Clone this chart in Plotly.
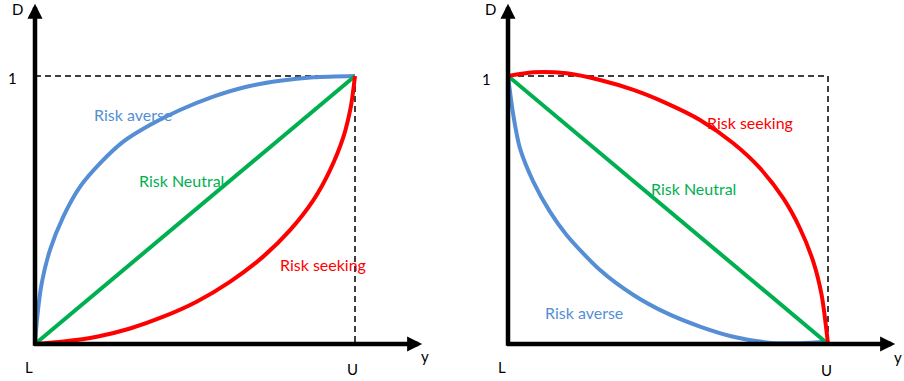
import plotly.graph_objects as go

# ---- data (normalized: L..U on x, 0..1 on D) ----
neutral_left_x = [0, 1]
neutral_left_y = [0, 1]
averse_left_x = [0, 0.007, 0.0209, 0.0469, 0.0885, 0.141, 0.203, 0.276, 0.359, 0.453,
                 0.557, 0.661, 0.766, 0.870, 1.0]
averse_left_y = [0, 0.101, 0.226, 0.351, 0.475, 0.587, 0.674, 0.755, 0.817, 0.873,
                 0.923, 0.960, 0.982, 0.995, 1.0]
seeking_left_x = [0, 0.0885, 0.193, 0.297, 0.401, 0.505, 0.609, 0.713, 0.797, 0.870,
                  0.922, 0.964, 0.987, 1.0]
seeking_left_y = [0, 0.009, 0.027, 0.058, 0.102, 0.158, 0.232, 0.326, 0.425, 0.537,
                  0.649, 0.774, 0.886, 1.0]

neutral_right_x = [0, 1]
neutral_right_y = [1, 0]
seeking_right_x = [0, 0.079, 0.183, 0.2875, 0.392, 0.496, 0.6, 0.704, 0.7875, 0.860,
                   0.9125, 0.954, 0.980, 1.0]
seeking_right_y = [1, 1.014, 1.010, 0.985, 0.948, 0.898, 0.836, 0.749, 0.656, 0.544,
                   0.431, 0.307, 0.183, 0]
averse_right_x = [0, 0.0166, 0.0375, 0.079, 0.131, 0.183, 0.2875, 0.392, 0.496, 0.6,
                  0.704, 0.808, 0.9125, 1.0]
averse_right_y = [1, 0.854, 0.730, 0.606, 0.494, 0.407, 0.276, 0.183, 0.115, 0.065,
                  0.027, 0.006, 0.003, 0.009]

BLUE = "#558ED5"
GREEN = "#00B050"
RED = "#FF0000"
FONT = "Lato"

W, H = 904, 381
PXX, PXY = 320.0, 268.0  # pixels per unit
def xr(origin_px, dom_lo_px, dom_hi_px):
    return [-(origin_px - dom_lo_px) / PXX, (dom_hi_px - origin_px) / PXX]
yrange = [-(H - 344) / PXY, 344 / PXY]

fig = go.Figure()

def curve(x, y, color, xa, ya, shape="spline"):
    fig.add_trace(go.Scatter(x=x, y=y, mode="lines", xaxis=xa, yaxis=ya,
                             line=dict(color=color, width=4, shape=shape, smoothing=0.8),
                             hoverinfo="skip", showlegend=False))

curve(averse_left_x, averse_left_y, BLUE, "x", "y")
curve(neutral_left_x, neutral_left_y, GREEN, "x", "y", "linear")
curve(seeking_left_x, seeking_left_y, RED, "x", "y")
curve(averse_right_x, averse_right_y, BLUE, "x2", "y2")
curve(neutral_right_x, neutral_right_y, GREEN, "x2", "y2", "linear")
curve(seeking_right_x, seeking_right_y, RED, "x2", "y2")

shapes = []
for xref, yref in (("x", "y"), ("x2", "y2")):
    shapes.append(dict(type="path", xref=xref, yref=yref, path="M0,1 L1,1 L1,0",
                       line=dict(color="black", width=1.5, dash="6px,4px"), layer="below"))
fig.update_layout(shapes=shapes)

ann = []
def arrow(xref, yref, x, y, ax, ay):
    ann.append(dict(xref=xref, yref=yref, axref=xref, ayref=yref, x=x, y=y, ax=ax, ay=ay,
                    showarrow=True, arrowhead=2, arrowwidth=4.5, arrowsize=0.67,
                    arrowcolor="black", text=""))

def label(xref, yref, x, y, text, color="black", size=15, xs=0, ys=0):
    ann.append(dict(xref=xref, yref=yref, x=x, y=y, text=text, showarrow=False,
                    xshift=xs, yshift=ys, font=dict(family=FONT, size=size, color=color)))

# axes with arrows
arrow("x", "y", 0, 1.27, 0, -0.012)
arrow("x", "y", 1.21, 0, -0.008, 0)
arrow("x2", "y2", 0, 1.27, 0, -0.012)
arrow("x2", "y2", 1.21, 0, -0.008, 0)

# left panel axis labels
label("x", "y", 0, 1.25, "D", xs=-18, ys=0)
label("x", "y", 0, 1, "1", xs=-23, ys=-2)
label("x", "y", 0, 0, "L", xs=-6, ys=-23)
label("x", "y", 1, 0, "U", xs=-3, ys=-25)
label("x", "y", 1.22, 0, "y", xs=0, ys=-12)
# right panel axis labels
label("x2", "y2", 0, 1.25, "D", xs=-18, ys=0)
label("x2", "y2", 0, 1, "1", xs=-22, ys=-3)
label("x2", "y2", 0, 0, "L", xs=-6, ys=-23)
label("x2", "y2", 1, 0, "U", xs=-2, ys=-26)
label("x2", "y2", 1.22, 0, "y", xs=0, ys=-13)

# curve labels
label("x", "y", (133 - 35) / PXX, (344 - 114) / PXY, "Risk averse", BLUE, 16)
label("x", "y", (181 - 35) / PXX, (344 - 180) / PXY, "Risk Neutral", GREEN, 16)
label("x", "y", (323 - 35) / PXX, (344 - 264) / PXY, "Risk seeking", RED, 16)
label("x2", "y2", (750 - 508) / PXX, (344 - 122) / PXY, "Risk seeking", RED, 16)
label("x2", "y2", (693 - 508) / PXX, (344 - 188) / PXY, "Risk Neutral", GREEN, 16)
label("x2", "y2", (584 - 508) / PXX, (344 - 312) / PXY, "Risk averse", BLUE, 16)

ax_common = dict(visible=False, showgrid=False, zeroline=False, fixedrange=True)
fig.update_layout(
    width=W, height=H, margin=dict(l=0, r=0, t=0, b=0),
    paper_bgcolor="white", plot_bgcolor="white",
    annotations=ann,
    xaxis=dict(domain=[0, 0.5], range=xr(35, 0, 452), **ax_common),
    yaxis=dict(domain=[0, 1], range=yrange, **ax_common),
    xaxis2=dict(domain=[0.5, 1], range=xr(508, 452, 904), anchor="y2", **ax_common),
    yaxis2=dict(domain=[0, 1], range=yrange, anchor="x2", **ax_common),
)

fig.write_html("out.html")
